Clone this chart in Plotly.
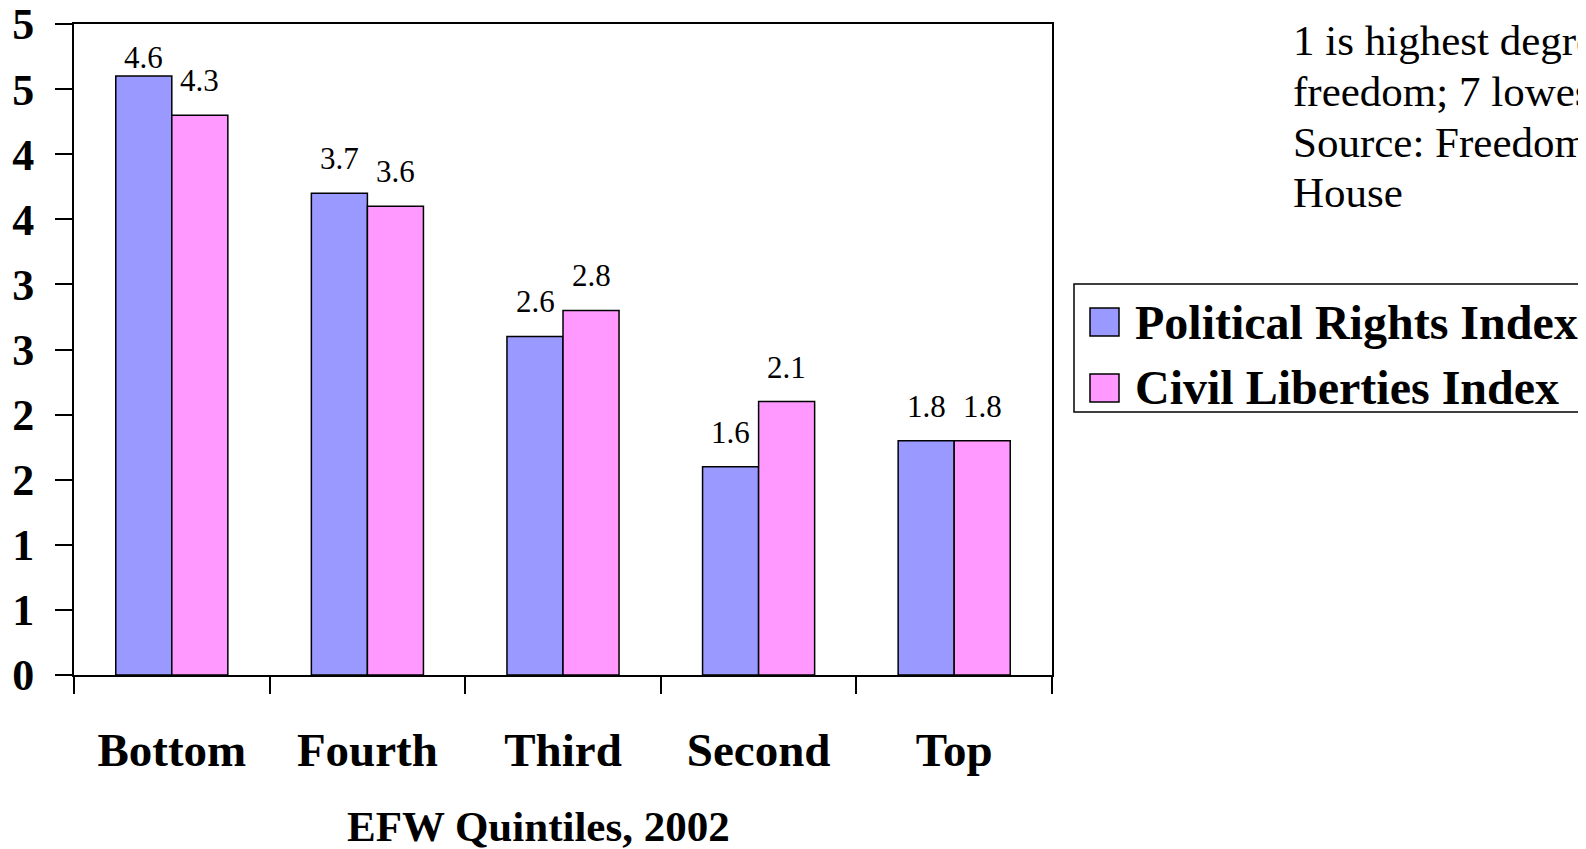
import plotly.graph_objects as go

# ---- data ----
categories = ["Bottom", "Fourth", "Third", "Second", "Top"]
series_names = ["Political Rights Index", "Civil Liberties Index"]
political = [4.6, 3.7, 2.6, 1.6, 1.8]
civil = [4.3, 3.6, 2.8, 2.1, 1.8]
political_labels = ["4.6", "3.7", "2.6", "1.6", "1.8"]
civil_labels = ["4.3", "3.6", "2.8", "2.1", "1.8"]
y_tick_values = [0, 0.5, 1, 1.5, 2, 2.5, 3, 3.5, 4, 4.5, 5]
y_tick_labels = ["0", "1", "1", "2", "2", "3", "3", "4", "4", "5", "5"]
x_title = "EFW Quintiles, 2002"
note_lines = ["1 is highest degree of", "freedom; 7 lowest.", "Source: Freedom", "House"]

# ---- style ----
W, H = 1586, 849
OFF = 8  # page body margin
# plot-area edges in page pixels
L, R, T, B = 74, 1052, 24, 675
colors = ["#9999FF", "#FF99FF"]
SERIF = "Liberation Serif, Times New Roman, serif"
political_label_shift = [-1, 15, 15, 15, 15]
civil_label_shift = [15, 15, 15, 15, 15]


def px(x):
    return (x - L) / (R - L)


def py(y):
    return (B - y) / (B - T)


fig = go.Figure()
for name, vals, col in zip(series_names, [political, civil], colors):
    fig.add_trace(go.Bar(
        x=categories, y=vals, name=name,
        marker=dict(color=col, line=dict(color="black", width=1.5)),
        showlegend=False,
    ))

# data labels
for labels, vals, shift, ysh in [(political_labels, political, -28, political_label_shift),
                                 (civil_labels, civil, 28, civil_label_shift)]:
    for c, v, t, s in zip(categories, vals, labels, ysh):
        fig.add_annotation(x=c, y=v, text=t, showarrow=False, xshift=shift,
                           yanchor="bottom", yshift=s,
                           font=dict(family=SERIF, size=31, color="black"))

# note text
note_y = [40, 91, 142, 192]
for line, yy in zip(note_lines, note_y):
    fig.add_annotation(xref="paper", yref="paper", x=px(1291), y=py(yy), text=line,
                       showarrow=False, xanchor="left", yanchor="middle",
                       font=dict(family=SERIF, size=43, color="black"))

# x-axis title
fig.add_annotation(xref="paper", yref="paper", x=px(538), y=py(826), text="<b>%s</b>" % x_title,
                   showarrow=False, xanchor="center", yanchor="middle",
                   font=dict(family=SERIF, size=43, color="black"))

# manual legend
fig.add_shape(type="rect", xref="paper", yref="paper",
              x0=px(1074), x1=px(1640), y0=py(412), y1=py(284),
              line=dict(color="black", width=1.5), fillcolor="white")
row_y = [322, 388]
for name, col, yy in zip(series_names, colors, row_y):
    fig.add_shape(type="rect", xref="paper", yref="paper",
                  x0=px(1090), x1=px(1119), y0=py(yy + 14), y1=py(yy - 14),
                  line=dict(color="black", width=1.5), fillcolor=col)
    fig.add_annotation(xref="paper", yref="paper", x=px(1133), y=py(yy), text="<b>%s</b>" % name,
                       showarrow=False, xanchor="left", yanchor="middle",
                       font=dict(family=SERIF, size=48, color="black"))

fig.update_layout(
    width=W, height=H,
    margin=dict(l=L - OFF, r=W - (R - OFF), t=T - OFF, b=H - (B - OFF), autoexpand=False),
    paper_bgcolor="white", plot_bgcolor="white",
    barmode="group", bargap=0.427, bargroupgap=0,
    font=dict(family=SERIF, color="black"),
    showlegend=False,
)
fig.update_xaxes(
    type="category", tickson="boundaries", ticks="outside", ticklen=17, tickwidth=2,
    tickcolor="black", showline=True, linecolor="black", linewidth=2, mirror=True,
    showgrid=False, ticklabelstandoff=33,
    tickfont=dict(family=SERIF, size=47, color="black"),
    tickvals=categories, ticktext=["<b>%s</b>" % c for c in categories],
)
fig.update_yaxes(
    range=[0, 5.0001], tickmode="array", tickvals=y_tick_values,
    ticktext=["<b>%s</b>" % t for t in y_tick_labels],
    ticks="outside", ticklen=17, tickwidth=2, tickcolor="black",
    showline=True, linecolor="black", linewidth=2, mirror=True,
    showgrid=False, zeroline=False, ticklabelstandoff=12, ticklabeloverflow="allow",
    tickfont=dict(family=SERIF, size=44, color="black"),
)

fig.write_html("out.html")
